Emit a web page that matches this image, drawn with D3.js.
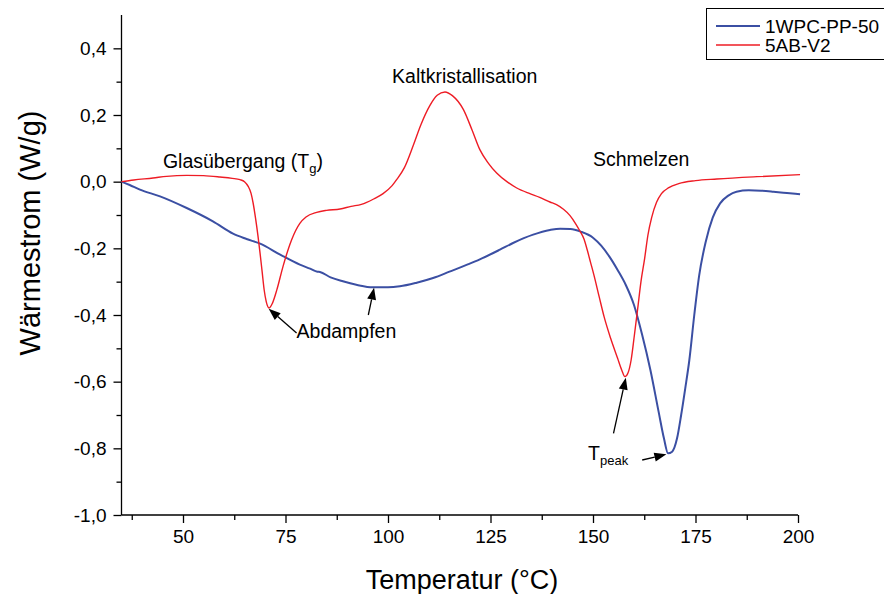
<!DOCTYPE html>
<html>
<head>
<meta charset="utf-8">
<script src="https://cdn.jsdelivr.net/npm/d3@7"></script>
<style>
  html, body { margin: 0; padding: 0; background: #fff; }
  svg { display: block; font-family: "Liberation Sans", Arial, sans-serif; }
</style>
</head>
<body>
<svg id="chart" width="884" height="594"></svg>
<script>
// ---------- data ----------
const seriesNames = ["1WPC-PP-50", "5AB-V2"];
const seriesColors = ["#3b4fa3", "#ee1c25"];

const blueT = [35, 37, 39.5, 44.4, 50.9, 57.3, 62.2, 65.5, 68.8, 73.7, 78.5, 81, 82.8, 83.4, 86, 89, 92.5, 96.3, 100, 102.9, 107, 111, 115, 119.3, 122.4, 127.3, 130.5, 135.4, 139.5, 142, 144.5, 147, 150, 152, 154, 156, 158, 160, 162, 164, 166, 167.3, 168.3, 169.3, 170.5, 171.5, 172.5, 173.5, 174.7, 175.9, 177.5, 179.2, 181, 183, 185, 188, 191, 194, 197.3, 200.5];
const blueV = [0, -0.01, -0.024, -0.044, -0.079, -0.119, -0.156, -0.172, -0.186, -0.219, -0.249, -0.261, -0.27, -0.271, -0.287, -0.299, -0.31, -0.317, -0.317, -0.314, -0.303, -0.289, -0.27, -0.249, -0.233, -0.204, -0.184, -0.159, -0.145, -0.141, -0.142, -0.150, -0.168, -0.192, -0.225, -0.265, -0.31, -0.37, -0.46, -0.565, -0.69, -0.77, -0.815, -0.81, -0.77, -0.70, -0.62, -0.535, -0.40, -0.281, -0.18, -0.108, -0.065, -0.042, -0.030, -0.026, -0.027, -0.030, -0.034, -0.038];

const redT = [35, 38, 42.7, 46, 50.9, 55, 59, 62, 63.9, 65, 65.9, 66.6, 67.1, 67.7, 68.3, 68.8, 69.3, 69.8, 70.3, 71, 71.8, 72.9, 74.4, 76.5, 78.5, 80, 82.6, 85, 88.3, 91, 93.5, 94.8, 96.5, 98.8, 101, 102.1, 104, 106.2, 108, 110.2, 112, 113.9, 115.7, 118.4, 120.5, 122.4, 124.5, 126.5, 129, 131.4, 134.6, 137, 139.5, 141.1, 142.8, 144.4, 145.7, 146.8, 147.8, 148.6, 149.4, 150.2, 151.5, 152.7, 154.3, 156, 157, 157.8, 158.5, 159.3, 160.1, 160.9, 161.7, 162.6, 163.4, 164.3, 165.5, 166.7, 168.5, 170.9, 175, 180.2, 190, 200.5];
const redV = [0, 0.005, 0.011, 0.016, 0.019, 0.018, 0.014, 0.010, 0.006, 0.0, -0.014, -0.035, -0.064, -0.11, -0.164, -0.215, -0.27, -0.325, -0.36, -0.379, -0.365, -0.324, -0.254, -0.174, -0.125, -0.106, -0.092, -0.086, -0.082, -0.074, -0.068, -0.062, -0.052, -0.036, -0.012, 0.006, 0.042, 0.11, 0.17, 0.228, 0.259, 0.269, 0.258, 0.216, 0.155, 0.096, 0.055, 0.026, 0.0, -0.019, -0.036, -0.047, -0.061, -0.069, -0.083, -0.102, -0.125, -0.148, -0.172, -0.205, -0.242, -0.279, -0.345, -0.405, -0.47, -0.53, -0.565, -0.585, -0.575, -0.535, -0.46, -0.381, -0.30, -0.23, -0.16, -0.108, -0.062, -0.036, -0.018, -0.006, 0.003, 0.008, 0.015, 0.021];

const xTicks = [50, 75, 100, 125, 150, 175, 200];
const xMinorTicks = [37.5, 62.5, 87.5, 112.5, 137.5, 162.5, 187.5];
const yTicks = [-1.0, -0.8, -0.6, -0.4, -0.2, 0.0, 0.2, 0.4];
const yMinorTicks = [-0.9, -0.7, -0.5, -0.3, -0.1, 0.1, 0.3];

const xTitle = "Temperatur (°C)";
const yTitle = "Wärmestrom (W/g)";

// annotations: [text, subscript, suffix, T, v]
const labels = [
  ["Glasübergang (T", "g", ")", 45.1, 0.040],
  ["Kaltkristallisation", "", "", 101.0, 0.295],
  ["Schmelzen", "", "", 150.0, 0.046],
  ["Abdampfen", "", "", 77.7, -0.468],
  ["T", "peak", "", 148.8, -0.835]
];
// arrows: [fromT, fromV, toT, toV]
const arrows = [
  [77.7, -0.454, 70.9, -0.381],
  [95.2, -0.400, 96.6, -0.318],
  [155.0, -0.755, 158.0, -0.588],
  [162.0, -0.835, 167.9, -0.818]
];

// ---------- chart ----------
const svg = d3.select("#chart");
const x = d3.scaleLinear().domain([35, 200]).range([121.5, 798]);
const y = d3.scaleLinear().domain([-1.0, 0.5]).range([515, 15]);
const fmt = d => d3.format(".1f")(d).replace(".", ",").replace("−", "-");

// x axis
const gx = svg.append("g").attr("transform", `translate(0,${y(-1.0)})`);
gx.call(d3.axisBottom(x).tickValues(xTicks).tickSize(8).tickPadding(7).tickFormat(d3.format("d")));
gx.append("g").call(d3.axisBottom(x).tickValues(xMinorTicks).tickSize(5).tickFormat(""))
  .select(".domain").remove();
gx.select(".domain").attr("d", `M${x(35)},0H${x(200)}`);

// y axis
const gy = svg.append("g").attr("transform", `translate(${x(35)},0)`);
gy.call(d3.axisLeft(y).tickValues(yTicks).tickSize(8).tickPadding(7).tickFormat(fmt));
gy.append("g").call(d3.axisLeft(y).tickValues(yMinorTicks).tickSize(5).tickFormat(""))
  .select(".domain").remove();
gy.select(".domain").attr("d", `M0,${y(0.5)}V${y(-1.0)}`);

svg.selectAll(".tick text").attr("font-size", 19).attr("fill", "#000")
  .attr("font-family", "Liberation Sans, Arial, sans-serif");
svg.selectAll(".domain, .tick line").attr("stroke", "#000").attr("stroke-width", 1.3);

// axis titles
svg.append("text").attr("x", 462).attr("y", 589).attr("text-anchor", "middle")
  .attr("font-size", 27).text(xTitle);
svg.append("text").attr("transform", `translate(40,233) rotate(-90)`).attr("text-anchor", "middle")
  .attr("font-size", 29).text(yTitle);

// lines
const line = d3.line().x(d => x(d[0])).y(d => y(d[1])).curve(d3.curveMonotoneX);
const blueData = blueT.map((t, i) => [t, blueV[i]]);
const redData = redT.map((t, i) => [t, redV[i]]);
svg.append("path").datum(blueData).attr("d", line).attr("fill", "none")
  .attr("stroke", seriesColors[0]).attr("stroke-width", 2);
svg.append("path").datum(redData).attr("d", line).attr("fill", "none")
  .attr("stroke", seriesColors[1]).attr("stroke-width", 1.4);

// annotations
labels.forEach(([txt, sub, suf, t, v]) => {
  const te = svg.append("text").attr("x", x(t)).attr("y", y(v)).attr("font-size", 19.5).attr("fill", "#000");
  te.append("tspan").text(txt);
  if (sub) te.append("tspan").attr("dy", 5).attr("font-size", 13).text(sub);
  if (suf) te.append("tspan").attr("dy", -5).text(suf);
});

// arrows
arrows.forEach(([t0, v0, t1, v1]) => {
  const x0 = x(t0), y0 = y(v0), x1 = x(t1), y1 = y(v1);
  const ang = Math.atan2(y1 - y0, x1 - x0);
  const L = 12, W = 4.5;
  const bx = x1 - L * Math.cos(ang), by = y1 - L * Math.sin(ang);
  svg.append("line").attr("x1", x0).attr("y1", y0).attr("x2", bx).attr("y2", by)
    .attr("stroke", "#000").attr("stroke-width", 1.3);
  const px = -Math.sin(ang) * W, py = Math.cos(ang) * W;
  svg.append("path").attr("d", `M${x1},${y1}L${bx + px},${by + py}L${bx - px},${by - py}Z`).attr("fill", "#000");
});

// legend
const lg = svg.append("g");
lg.append("rect").attr("x", 706.5).attr("y", 8.5).attr("width", 190).attr("height", 51)
  .attr("fill", "#fff").attr("stroke", "#000").attr("stroke-width", 1);
seriesNames.forEach((n, i) => {
  const yy = 26 + i * 19;
  lg.append("line").attr("x1", 716).attr("x2", 760).attr("y1", yy).attr("y2", yy)
    .attr("stroke", seriesColors[i]).attr("stroke-width", i === 0 ? 2 : 1.4);
  lg.append("text").attr("x", 765).attr("y", yy + 7).attr("font-size", 19).text(n);
});
</script>
</body>
</html>
